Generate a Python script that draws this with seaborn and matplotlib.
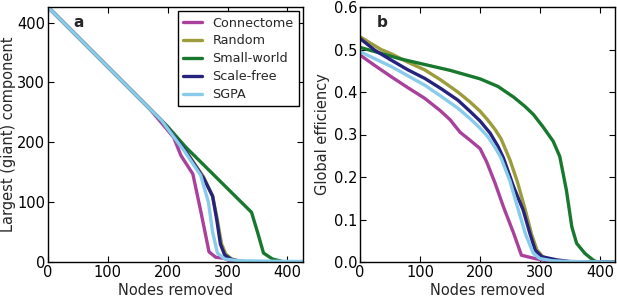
import numpy as np
import pandas as pd
import matplotlib
matplotlib.use("Agg")
import matplotlib.pyplot as plt
import seaborn as sns

series = ["Connectome", "Random", "Small-world", "Scale-free", "SGPA"]
colors = ["#a8409c", "#9c9c3a", "#17782e", "#25237e", "#89cbea"]

# Panel a: largest (giant) component vs nodes removed
a_conn_x = [0, 170, 210, 222, 242, 256, 269, 280, 295, 307, 426]
a_conn_y = [426, 256, 208, 178, 147, 81, 17, 8, 6, 0, 0]
a_rand_x = [0, 190, 230, 260, 275, 283, 290, 297, 307, 322, 340, 426]
a_rand_y = [426, 236, 186, 142, 110, 70, 30, 13, 5, 1, 0, 0]
a_sw_x = [0, 200, 230, 340, 350, 360, 375, 395, 426]
a_sw_y = [426, 226, 192, 83, 50, 15, 5, 0, 0]
a_sf_x = [0, 190, 230, 260, 275, 282, 288, 295, 305, 320, 340, 426]
a_sf_y = [426, 236, 185, 140, 110, 70, 30, 12, 5, 1, 0, 0]
a_sgpa_x = [0, 190, 228, 255, 268, 275, 283, 295, 320, 400, 426]
a_sgpa_y = [426, 236, 185, 145, 100, 50, 15, 5, 2, 1, 1]

# Panel b: global efficiency vs nodes removed
b_conn_x = [0, 25, 52, 80, 108, 133, 150, 167, 183, 200, 211, 225, 239, 256, 269, 289, 303, 320, 426]
b_conn_y = [0.487, 0.462, 0.436, 0.41, 0.385, 0.357, 0.335, 0.305, 0.287, 0.267, 0.236, 0.186,
            0.13, 0.068, 0.016, 0.009, 0.005, 0.001, 0]
b_rand_x = [0, 35, 52, 80, 108, 135, 163, 183, 200, 213, 225, 235, 250, 262, 275, 286, 295, 305, 320, 340, 426]
b_rand_y = [0.53, 0.50, 0.49, 0.47, 0.452, 0.428, 0.40, 0.377, 0.355, 0.334, 0.312, 0.29, 0.24,
            0.19, 0.125, 0.065, 0.028, 0.012, 0.004, 0.001, 0]
b_sw_x = [0, 67, 150, 200, 230, 256, 275, 289, 305, 322, 333, 344, 353, 361, 375, 389, 395, 426]
b_sw_y = [0.505, 0.478, 0.451, 0.431, 0.413, 0.388, 0.366, 0.347, 0.318, 0.284, 0.248, 0.169,
          0.083, 0.044, 0.02, 0.004, 0, 0]
b_sf_x = [0, 25, 52, 80, 108, 135, 163, 183, 200, 217, 230, 239, 256, 272, 283, 292, 303, 328, 350, 426]
b_sf_y = [0.526, 0.498, 0.475, 0.452, 0.432, 0.408, 0.381, 0.355, 0.332, 0.303, 0.272, 0.245,
          0.177, 0.122, 0.068, 0.028, 0.0125, 0.005, 0.001, 0]
b_sgpa_x = [0, 25, 52, 80, 108, 135, 163, 183, 200, 213, 225, 235, 250, 264, 276, 289, 300, 320, 350, 426]
b_sgpa_y = [0.495, 0.478, 0.46, 0.438, 0.416, 0.39, 0.362, 0.338, 0.315, 0.295, 0.27, 0.245,
            0.19, 0.122, 0.065, 0.02, 0.008, 0.003, 0.001, 0]

def long_df(pairs):
    rows = []
    for name, xs, ys in pairs:
        for x, y in zip(xs, ys):
            rows.append({"series": name, "x": x, "y": y})
    return pd.DataFrame(rows)

df_a = long_df([
    ("Connectome", a_conn_x, a_conn_y),
    ("Random", a_rand_x, a_rand_y),
    ("Small-world", a_sw_x, a_sw_y),
    ("Scale-free", a_sf_x, a_sf_y),
    ("SGPA", a_sgpa_x, a_sgpa_y),
])
df_b = long_df([
    ("Connectome", b_conn_x, b_conn_y),
    ("Random", b_rand_x, b_rand_y),
    ("Small-world", b_sw_x, b_sw_y),
    ("Scale-free", b_sf_x, b_sf_y),
    ("SGPA", b_sgpa_x, b_sgpa_y),
])

sns.set_style("ticks")
plt.rcParams.update({
    "font.family": ["DejaVu Sans"],
    "font.size": 10,
    "xtick.direction": "in",
    "ytick.direction": "in",
    "xtick.top": True,
    "ytick.right": True,
    "axes.edgecolor": "black",
    "axes.linewidth": 1.0,
    "xtick.color": "black",
    "ytick.color": "black",
    "xtick.major.size": 4,
    "ytick.major.size": 4,
    "lines.solid_joinstyle": "round",
})

palette = dict(zip(series, colors))
fig = plt.figure(figsize=(6.17, 2.98), dpi=100)
ax1 = fig.add_axes([48/617, 36/298, 255/617, 255/298])
ax2 = fig.add_axes([360/617, 36/298, 255/617, 255/298])

sns.lineplot(data=df_a, x="x", y="y", hue="series", hue_order=series,
             palette=palette, lw=2.4, ax=ax1, sort=False, estimator=None)
sns.lineplot(data=df_b, x="x", y="y", hue="series", hue_order=series,
             palette=palette, lw=2.4, ax=ax2, sort=False, estimator=None, legend=False)

ax1.set_xlim(0, 426)
ax1.set_ylim(0, 426)
ax1.set_xticks([0, 100, 200, 300, 400])
ax1.set_yticks([0, 100, 200, 300, 400])
ax1.set_xlabel("Nodes removed", fontsize=10.5, labelpad=2)
ax1.set_ylabel("Largest (giant) component", fontsize=10.5, labelpad=1)
ax1.text(0.118, 0.94, "a", transform=ax1.transAxes, fontweight="bold",
         fontsize=11, ha="center", va="center")
leg = ax1.legend(loc="upper right", fancybox=False, edgecolor="black",
                 fontsize=9.2, handlelength=1.5, borderaxespad=0.35,
                 labelspacing=0.38, handletextpad=0.8, title=None)
leg.get_frame().set_linewidth(1.0)
leg.get_frame().set_alpha(1)

ax2.set_xlim(0, 425)
ax2.set_ylim(0, 0.6)
ax2.set_xticks([0, 100, 200, 300, 400])
ax2.set_yticks([0.0, 0.1, 0.2, 0.3, 0.4, 0.5, 0.6])
ax2.yaxis.set_major_formatter(matplotlib.ticker.FormatStrFormatter("%.1f"))
ax2.set_xlabel("Nodes removed", fontsize=10.5, labelpad=2)
ax2.set_ylabel("Global efficiency", fontsize=10.5, labelpad=3)
ax2.text(0.086, 0.94, "b", transform=ax2.transAxes, fontweight="bold",
         fontsize=11, ha="center", va="center")

for ax in (ax1, ax2):
    ax.tick_params(labelsize=10.5, pad=2)
    for s in ax.spines.values():
        s.set_visible(True)

fig.savefig("out.png", dpi=100)
